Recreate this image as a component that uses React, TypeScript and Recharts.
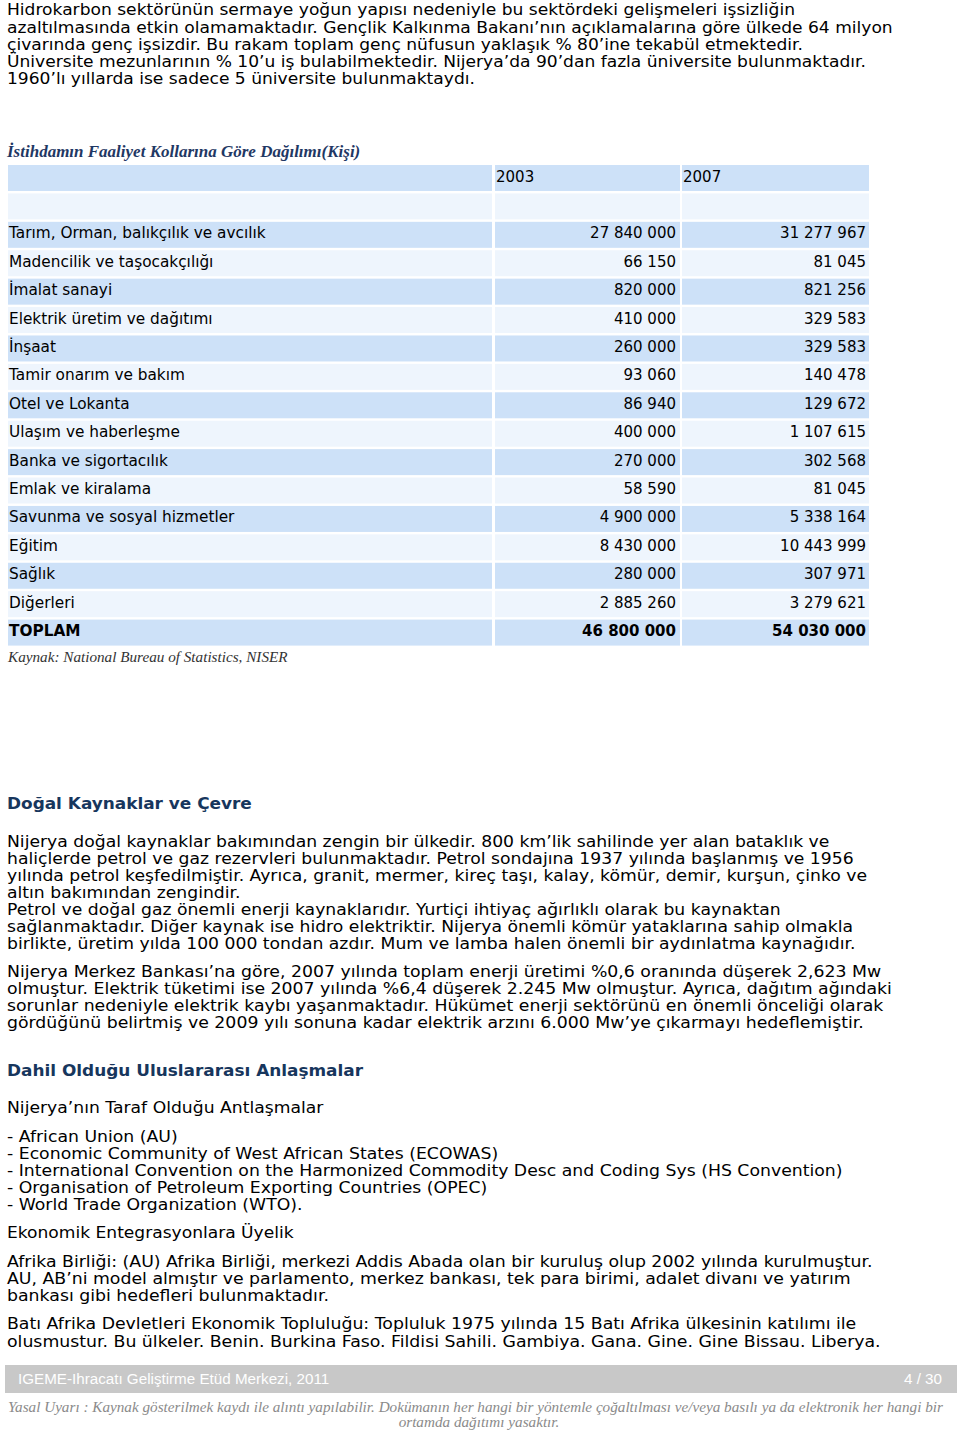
import React from 'react';
import { BarChart, Bar, XAxis, YAxis } from 'recharts';

// ---------- table data ----------
const yearLabels = ['2003', '2007'];
const categories = [
  'Tarım, Orman, balıkçılık ve avcılık',
  'Madencilik ve taşocakçılığı',
  'İmalat sanayi',
  'Elektrik üretim ve dağıtımı',
  'İnşaat',
  'Tamir onarım ve bakım',
  'Otel ve Lokanta',
  'Ulaşım ve haberleşme',
  'Banka ve sigortacılık',
  'Emlak ve kiralama',
  'Savunma ve sosyal hizmetler',
  'Eğitim',
  'Sağlık',
  'Diğerleri',
  'TOPLAM',
];
const values2003 = [
  27840000, 66150, 820000, 410000, 260000, 93060, 86940, 400000, 270000, 58590,
  4900000, 8430000, 280000, 2885260, 46800000,
];
const values2007 = [
  31277967, 81045, 821256, 329583, 329583, 140478, 129672, 1107615, 302568, 81045,
  5338164, 10443999, 307971, 3279621, 54030000,
];

const tableTitle = 'İstihdamın Faaliyet Kollarına Göre Dağılımı(Kişi)';
const sourceNote = 'Kaynak: National Bureau of Statistics, NISER';

// ---------- page text ----------
const introLines = [
  'Hidrokarbon sektörünün sermaye yoğun yapısı nedeniyle bu sektördeki gelişmeleri işsizliğin',
  'azaltılmasında etkin olamamaktadır. Gençlik Kalkınma Bakanı’nın açıklamalarına göre ülkede 64 milyon',
  'çivarında genç işsizdir. Bu rakam toplam genç nüfusun yaklaşık % 80’ine tekabül etmektedir.',
  'Üniversite mezunlarının % 10’u iş bulabilmektedir. Nijerya’da 90’dan fazla üniversite bulunmaktadır.',
  '1960’lı yıllarda ise sadece 5 üniversite bulunmaktaydı.',
];
const heading1 = 'Doğal Kaynaklar ve Çevre';
const para1 = [
  'Nijerya doğal kaynaklar bakımından zengin bir ülkedir. 800 km’lik sahilinde yer alan bataklık ve',
  'haliçlerde petrol ve gaz rezervleri bulunmaktadır. Petrol sondajına 1937 yılında başlanmış ve 1956',
  'yılında petrol keşfedilmiştir. Ayrıca, granit, mermer, kireç taşı, kalay, kömür, demir, kurşun, çinko ve',
  'altın bakımından zengindir.',
  'Petrol ve doğal gaz önemli enerji kaynaklarıdır. Yurtiçi ihtiyaç ağırlıklı olarak bu kaynaktan',
  'sağlanmaktadır. Diğer kaynak ise hidro elektriktir. Nijerya önemli kömür yataklarına sahip olmakla',
  'birlikte, üretim yılda 100 000 tondan azdır. Mum ve lamba halen önemli bir aydınlatma kaynağıdır.',
];
const para2 = [
  'Nijerya Merkez Bankası’na göre, 2007 yılında toplam enerji üretimi %0,6 oranında düşerek 2,623 Mw',
  'olmuştur. Elektrik tüketimi ise 2007 yılında %6,4 düşerek 2.245 Mw olmuştur. Ayrıca, dağıtım ağındaki',
  'sorunlar nedeniyle elektrik kaybı yaşanmaktadır. Hükümet enerji sektörünü en önemli önceliği olarak',
  'gördüğünü belirtmiş ve 2009 yılı sonuna kadar elektrik arzını 6.000 Mw’ye çıkarmayı hedeflemiştir.',
];
const heading2 = 'Dahil Olduğu Uluslararası Anlaşmalar';
const sub1 = 'Nijerya’nın Taraf Olduğu Antlaşmalar';
const listLines = [
  '- African Union (AU)',
  '- Economic Community of West African States (ECOWAS)',
  '- International Convention on the Harmonized Commodity Desc and Coding Sys (HS Convention)',
  '- Organisation of Petroleum Exporting Countries (OPEC)',
  '- World Trade Organization (WTO).',
];
const sub2 = 'Ekonomik Entegrasyonlara Üyelik';
const para3 = [
  'Afrika Birliği: (AU) Afrika Birliği, merkezi Addis Abada olan bir kuruluş olup 2002 yılında kurulmuştur.',
  'AU, AB’ni model almıştır ve parlamento, merkez bankası, tek para birimi, adalet divanı ve yatırım',
  'bankası gibi hedefleri bulunmaktadır.',
];
const para4 = [
  'Batı Afrika Devletleri Ekonomik Topluluğu: Topluluk 1975 yılında 15 Batı Afrika ülkesinin katılımı ile',
  'olusmustur. Bu ülkeler. Benin. Burkina Faso. Fildisi Sahili. Gambiya. Gana. Gine. Gine Bissau. Liberya.',
];
const footerLeft = 'IGEME-Ihracatı Geliştirme Etüd Merkezi, 2011';
const footerRight = '4 / 30';
const disclaimer1 =
  'Yasal Uyarı : Kaynak gösterilmek kaydı ile alıntı yapılabilir. Dokümanın her hangi bir yöntemle çoğaltılması ve/veya basılı ya da elektronik her hangi bir';
const disclaimer2 = 'ortamda dağıtımı yasaktır.';

// ---------- helpers ----------
const fmt = (n: number) => String(n).replace(/\B(?=(\d{3})+(?!\d))/g, ' ');

type Row = { id: string; label: string; a: string; b: string; kind: string; span: number };
const rows: Row[] = [
  { id: 'head', label: '', a: yearLabels[0], b: yearLabels[1], kind: 'header', span: 1 },
  { id: 'blank', label: '', a: '', b: '', kind: 'blank', span: 1 },
  ...categories.map((c, i) => ({
    id: 'r' + i,
    label: c,
    a: fmt(values2003[i]),
    b: fmt(values2007[i]),
    kind: c === 'TOPLAM' ? 'total' : 'data',
    span: 1,
  })),
];

const SANS = '"DejaVu Sans", Verdana, sans-serif';
const SERIF = '"Liberation Serif", "Times New Roman", serif';
const ARIAL = '"Liberation Sans", Arial, sans-serif';
const DARK = '#cde1f8';
const LIGHT = '#eef5fd';
const NAVY = '#17365d';

const COLS: [number, number][] = [
  [0, 484],
  [487, 672],
  [674, 861],
];

const T = ({
  x,
  y,
  children,
  size = 16,
  weight = 400,
  fill = '#000',
  family = SANS,
  italic = false,
  anchor = 'start',
  sx = 1,
}: any) => (
  <text
    transform={`translate(${x} ${y}) scale(${sx} 1)`}
    x={0}
    y={0}
    fontSize={size}
    fontWeight={weight}
    fill={fill}
    fontFamily={family}
    fontStyle={italic ? 'italic' : 'normal'}
    textAnchor={anchor}
  >
    {children}
  </text>
);

const RowShape = (props: any) => {
  const { x, y, height, payload } = props;
  const idx = rows.findIndex((r) => r.id === payload.id);
  const fill = idx % 2 === 0 ? DARK : LIGHT;
  const h = height - 2;
  const base = y + 16.5;
  const bold = payload.kind === 'total';
  const fw = bold ? 700 : 400;
  return (
    <g>
      {COLS.map(([a, b], i) => (
        <rect key={i} x={x + a} y={y} width={b - a} height={h} fill={fill} />
      ))}
      <T x={x + COLS[0][0] + 1} y={base} size={15} weight={fw} sx={1.022}>
        {payload.label}
      </T>
      {payload.kind === 'header' ? (
        <>
          <T x={x + COLS[1][0] + 1} y={base} size={15}>
            {payload.a}
          </T>
          <T x={x + COLS[2][0] + 1} y={base} size={15}>
            {payload.b}
          </T>
        </>
      ) : (
        <>
          <T x={x + COLS[1][1] - 4} y={base} size={15} weight={fw} anchor="end">
            {payload.a}
          </T>
          <T x={x + COLS[2][1] - 3} y={base} size={15} weight={fw} anchor="end">
            {payload.b}
          </T>
        </>
      )}
    </g>
  );
};

const Lines = ({ lines, ys, sx }: { lines: string[]; ys: number[]; sx: number }) => (
  <>
    {lines.map((l, i) => (
      <T key={i} x={7} y={ys[i]} sx={sx}>
        {l}
      </T>
    ))}
  </>
);

export default function App() {
  return (
    <div
      style={{
        position: 'absolute',
        left: 0,
        top: 0,
        width: 960,
        height: 1432,
        background: '#fff',
        overflow: 'hidden',
      }}
    >
      <svg width={960} height={1432} style={{ position: 'absolute', left: 0, top: 0 }}>
        <defs>
          <clipPath id="bodyClip">
            <rect x={0} y={0} width={960} height={1350} />
          </clipPath>
        </defs>
        <g clipPath="url(#bodyClip)">
          <Lines lines={introLines} ys={[15, 32.5, 50, 67, 84]} sx={1.069} />
          <T x={7} y={157} size={17} weight={700} italic family={SERIF} fill="#1f3864">
            {tableTitle}
          </T>
          <T x={8} y={662} size={15.2} italic family={SERIF} fill="#333">
            {sourceNote}
          </T>
          <T x={7} y={809} size={16.5} weight={700} fill={NAVY} sx={1.025}>
            {heading1}
          </T>
          <Lines lines={para1} ys={[847, 864, 881, 897.5, 915, 932, 948.5]} sx={1.076} />
          <Lines lines={para2} ys={[976.5, 993.5, 1011, 1028]} sx={1.082} />
          <T x={7} y={1075.5} size={16.5} weight={700} fill={NAVY} sx={1.025}>
            {heading2}
          </T>
          <T x={7} y={1113} sx={1.075}>
            {sub1}
          </T>
          <Lines lines={listLines} ys={[1142, 1159, 1176, 1193, 1210]} sx={1.08} />
          <T x={7} y={1238} sx={1.068}>
            {sub2}
          </T>
          <Lines lines={para3} ys={[1267, 1284, 1301]} sx={1.083} />
          <Lines lines={para4} ys={[1329, 1346.5]} sx={1.083} />
        </g>
        <rect x={5} y={1365} width={952} height={28} fill="#c8c8c8" />
        <T x={18} y={1384} size={15.2} family={ARIAL} fill="#fff">
          {footerLeft}
        </T>
        <T x={942} y={1384} size={15.2} family={ARIAL} fill="#fff" anchor="end">
          {footerRight}
        </T>
        <T x={8} y={1412} size={15.2} italic family={SERIF} fill="#8a8a8a">
          {disclaimer1}
        </T>
        <T x={479} y={1427} size={15.2} italic family={SERIF} fill="#8a8a8a" anchor="middle">
          {disclaimer2}
        </T>
      </svg>
      <div style={{ position: 'absolute', left: 8, top: 164.5 }}>
        <BarChart
          width={861}
          height={483}
          data={rows}
          layout="vertical"
          margin={{ top: 0, right: 0, bottom: 0, left: 0 }}
          barCategoryGap={0}
        >
          <XAxis type="number" domain={[0, 1]} hide />
          <YAxis type="category" dataKey="id" hide />
          <Bar dataKey="span" isAnimationActive={false} shape={RowShape} />
        </BarChart>
      </div>
    </div>
  );
}
